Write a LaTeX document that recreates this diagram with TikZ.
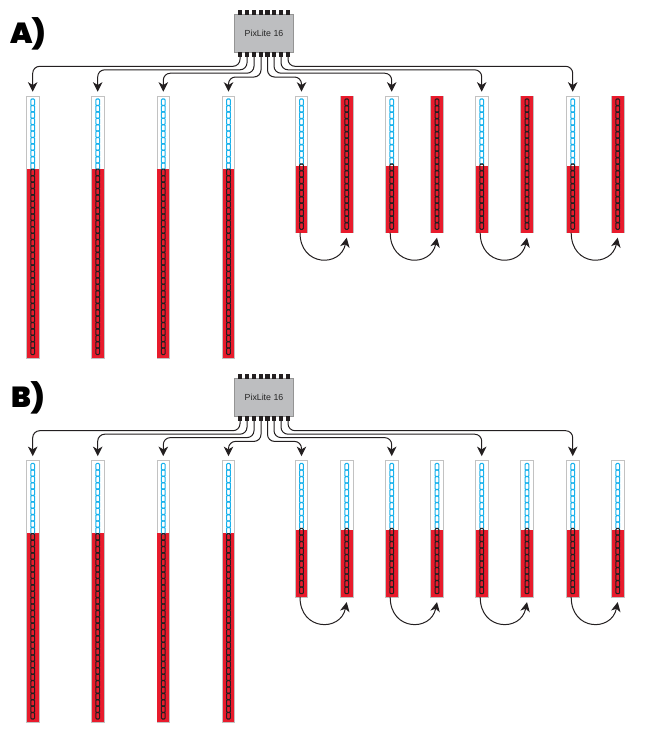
\documentclass[tikz,border=0pt]{standalone}
\usepackage{fontspec}
\setmainfont{Liberation Sans}
\newfontfamily\blk{Poppins Black}
\usetikzlibrary{arrows.meta}
\definecolor{stripred}{HTML}{E81B2C}
\definecolor{ledblue}{HTML}{16B1EC}
\definecolor{ink}{HTML}{231F20}
\definecolor{boxgrey}{HTML}{BDBEC0}
\tikzset{
  stripbox/.style={draw=black!24,fill=white,line width=.8pt,minimum width=12.6pt,inner sep=0pt,outer sep=0pt},
  ctrl/.style={draw=black!42,fill=boxgrey,line width=.8pt,minimum width=59pt,minimum height=37.5pt,inner sep=0pt,font=\fontsize{8.8}{10}\selectfont,text=black!85},
  pin/.style={fill=ink,minimum width=4.6pt,minimum height=5pt,inner sep=0pt,outer sep=0pt},
  wire/.style={draw=ink,line width=1pt,rounded corners=7pt,-{Stealth[length=9.5pt,width=9.5pt,inset=2.8pt]},shorten >=4.6pt},
  loopwire/.style={draw=ink,line width=1pt,-{Stealth[length=9.5pt,width=9.5pt,inset=2.8pt]}},
  ring/.style={line width=1.05pt,rounded corners=1pt},
  panellabel/.style={font=\blk\fontsize{29}{29}\selectfont,text=black,inner sep=0pt}
}
% name, centre x, y where red begins, bottom y, number of rings
\newcommand{\ledstrip}[5]{%
  \pgfmathsetmacro{\hh}{#4-96.3}%
  \pgfmathsetmacro{\mm}{(#4+96.3)/2}%
  \pgfmathsetmacro{\spc}{(#4-3.7-99)/#5}%
  \node[stripbox,minimum height=\hh pt] (#1) at (#2,\mm) {};
  \fill[stripred] (#2-5.9,#3) rectangle (#2+5.9,#4-.2);
  \foreach \k in {1,...,#5}{%
    \pgfmathsetmacro{\yy}{99+(\k-1)*\spc}%
    \pgfmathsetmacro{\yz}{\yy+\spc+.3}%
    \pgfmathsetmacro{\ym}{\yy+\spc/2}%
    \ifdim\ym pt<#3pt \def\rc{ledblue}\else\def\rc{ink}\fi
    \draw[ring,draw=\rc] (#2-1.85,\yy) rectangle (#2+1.85,\yz);
  }%
}
% prefix, y offset, label, red start of the second strip of each pair
\newcommand{\panel}[4]{%
\begin{scope}[shift={(0,#2)}]
  \node[panellabel] (#1lab) at (28,33.5) {#3};
  \node[ctrl] (#1box) at (264,33.2) {PixLite 16};
  \foreach \i/\x in {1/240,2/247,3/254,4/261,5/267.5,6/274,7/281,8/288}{
    \node[pin] (#1t\i) at (\x,12.2) {};
    \node[pin] (#1p\i) at (\x,54.2) {};
  }
  \ledstrip{#1a1}{32.7}{168.7}{358}{40}
  \ledstrip{#1a2}{97.7}{168.7}{358}{40}
  \ledstrip{#1a3}{163.3}{168.7}{358}{40}
  \ledstrip{#1a4}{228.5}{168.7}{358}{40}
  \foreach \n/\x/\xx in {1/301.5/346.7,2/391.7/437,3/481.7/527,4/572.7/617.7}{
    \ledstrip{#1s\n}{\x}{166}{232.7}{20}
    \ledstrip{#1r\n}{\xx}{#4}{232.7}{20}
    \draw[loopwire] ([xshift=-1.5pt]#1s\n.south) .. controls +(0,34) and +(-6,30) .. ([yshift=-5pt]#1r\n.south);
  }
  \coordinate (#1L1) at (0,66.3);
  \coordinate (#1L2) at (0,69.8);
  \coordinate (#1L3) at (0,73.2);
  \coordinate (#1L4) at (0,77);
  \draw[wire] (#1p1.south) -- (#1p1.south |- #1L1) -- (#1a1.north |- #1L1) -- (#1a1.north);
  \draw[wire] (#1p2.south) -- (#1p2.south |- #1L2) -- (#1a2.north |- #1L2) -- (#1a2.north);
  \draw[wire] (#1p3.south) -- (#1p3.south |- #1L3) -- (#1a3.north |- #1L3) -- (#1a3.north);
  \draw[wire] (#1p4.south) -- (#1p4.south |- #1L4) -- (#1a4.north |- #1L4) -- (#1a4.north);
  \draw[wire] (#1p5.south) -- (#1p5.south |- #1L4) -- (#1s1.north |- #1L4) -- (#1s1.north);
  \draw[wire] (#1p6.south) -- (#1p6.south |- #1L3) -- (#1s2.north |- #1L3) -- (#1s2.north);
  \draw[wire] (#1p7.south) -- (#1p7.south |- #1L2) -- (#1s3.north |- #1L2) -- (#1s3.north);
  \draw[wire] (#1p8.south) -- (#1p8.south |- #1L1) -- (#1s4.north |- #1L1) -- (#1s4.north);
\end{scope}}
\begin{document}
\begin{tikzpicture}[x=1pt,y=-1pt]
  \useasboundingbox (0,0) rectangle (650,731);
  \panel{A}{0}{A)}{95.6}
  \panel{B}{364.4}{B)}{166}
\end{tikzpicture}
\end{document}
